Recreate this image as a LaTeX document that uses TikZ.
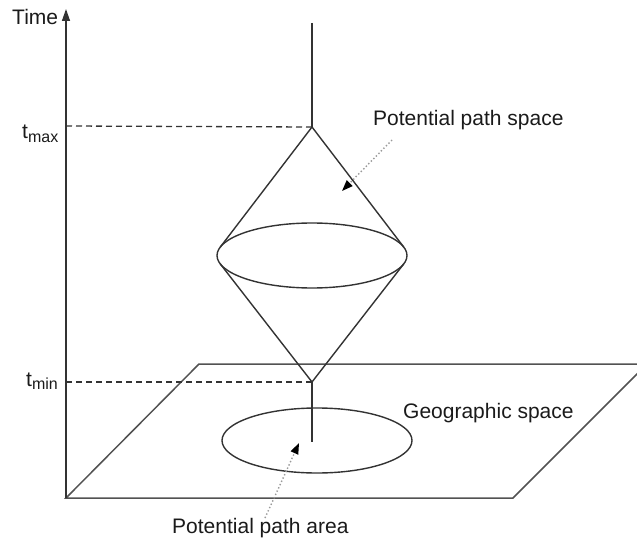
\documentclass[tikz,border=0pt]{standalone}
\usepackage{fontspec}
\setmainfont{Liberation Sans}
\usetikzlibrary{arrows.meta}
\definecolor{linec}{HTML}{333333}
\definecolor{dotc}{HTML}{9A9A9A}
\definecolor{txtc}{HTML}{1A1A1A}
\tikzset{
  mainline/.style={draw=linec, line width=1.4pt},
  planeline/.style={draw=linec!85, line width=1.5pt},
  dashline/.style={draw=linec, line width=1.3pt, dash pattern=on 6pt off 4pt},
  pointer/.style={draw=dotc, line width=1.4pt, dash pattern=on 1.4pt off 2.2pt,
    -{Triangle[length=11pt,width=8pt,color=black,fill=black]}},
  lbl/.style={inner sep=0pt, text=txtc, font=\fontsize{21}{23}\selectfont},
}
\newcommand{\tsub}[1]{t\raisebox{-0.3ex}{\fontsize{16}{17}\selectfont #1}}
\begin{document}
\begin{tikzpicture}[x=1pt,y=-1pt]
\useasboundingbox (0,0) rectangle (637,540);
\begin{scope}
\clip (0,0) rectangle (637,540);
% plane
\coordinate (pbl) at (66,498);
\coordinate (pbr) at (513,498);
\coordinate (ptr) at (647,364);
\coordinate (ptl) at (199,364);
\draw[planeline] (pbl) -- (pbr) -- (ptr) -- (ptl) -- cycle;
\end{scope}
% time axis
\coordinate (origin) at (66,498);
\coordinate (ttop) at (66,9);
\draw[mainline, -{Triangle[length=12pt,width=8pt]}] (origin) -- (ttop);
\node[lbl, anchor=base west] (time) at (12,25) {Time};
% cone
\coordinate (apex) at (312,127);
\coordinate (bot) at (312,382);
\coordinate (top) at (312,23);
\coordinate (ec) at (312,255.5);
\coordinate (tul) at (220.1,247.3);
\coordinate (tur) at (403.9,247.3);
\coordinate (tll) at (220.1,263.7);
\coordinate (tlr) at (403.9,263.7);
\draw[mainline] (top) -- (apex);
\draw[mainline] (apex) -- (tul);
\draw[mainline] (apex) -- (tur);
\draw[mainline] (bot) -- (tll);
\draw[mainline] (bot) -- (tlr);
\draw[mainline] (ec) ellipse [x radius=95, y radius=32.5];
% dashed time marks
\coordinate (amax) at (66,126);
\coordinate (amin) at (66,382);
\draw[dashline] (amax) -- (apex);
\draw[dashline] (amin) -- (bot);
\node[lbl, anchor=base west] (tmax) at (22,139) {\tsub{max}};
\node[lbl, anchor=base west] (tmin) at (26,386) {\tsub{min}};
% footprint
\coordinate (stem) at (312,442);
\draw[mainline] (bot) -- (stem);
\coordinate (gc) at (317,440.5);
\draw[mainline] (gc) ellipse [x radius=95, y radius=32.5];
% labels and pointers
\node[lbl, anchor=base west] (pps) at (373,126) {Potential path space};
\node[lbl, anchor=base west] (gs) at (403,418) {Geographic space};
\node[lbl, anchor=base west] (ppa) at (172,533) {Potential path area};
\coordinate (p1s) at (392,140);
\coordinate (p1e) at (342,191);
\draw[pointer] (p1s) -- (p1e);
\coordinate (p2s) at (265,518);
\coordinate (p2e) at (299,443);
\draw[pointer] (p2s) -- (p2e);
\end{tikzpicture}
\end{document}
